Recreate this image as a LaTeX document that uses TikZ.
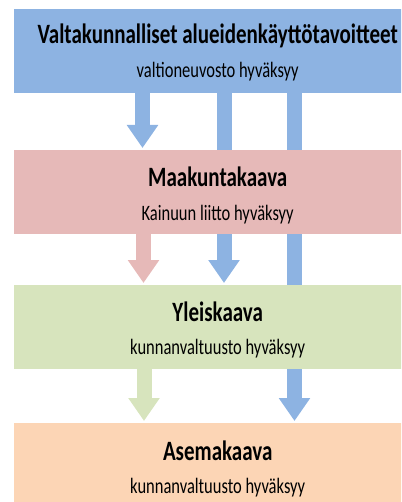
\documentclass[tikz,border=0pt]{standalone}
\usepackage{fontspec}
\newfontfamily\calib[FakeStretch=0.75]{Carlito}
\usetikzlibrary{arrows.meta,backgrounds}
\definecolor{vatblue}{HTML}{8DB3E2}
\definecolor{makupink}{HTML}{E6B9B8}
\definecolor{yleisgreen}{HTML}{D7E4BD}
\definecolor{asemaorange}{HTML}{FCD5B5}

\begin{document}
\begin{tikzpicture}[x=1pt,y=-1pt,
    box/.style={rectangle,anchor=north west,inner sep=0pt,minimum width=408pt,minimum height=83.5pt},
    head/.style={anchor=base,font=\calib\bfseries\fontsize{28}{30}\selectfont},
    sub/.style={anchor=base,font=\calib\fontsize{22}{24}\selectfont},
    blockarrow/.style={line width=15pt,-{Triangle[width=30pt,length=23pt]},shorten >=2pt}]
    \useasboundingbox (0,0) rectangle (401,502);
    \clip (0,0) rectangle (401,502);
    %Levels
    \node[box,fill=vatblue] (vat) at (13.5,9) {};
    \node[box,fill=makupink] (maku) at (13.5,150) {};
    \node[box,fill=yleisgreen] (yleis) at (13.5,285) {};
    \node[box,fill=asemaorange] (asema) at (13.5,423) {};

    %Texts
    \node[head] (vat-h) at ([yshift=-35pt]vat.north) {Valtakunnalliset alueidenkäyttötavoitteet};
    \node[sub] (vat-s) at ([yshift=-69pt]vat.north) {valtioneuvosto hyväksyy};
    \node[head] (maku-h) at ([yshift=-37pt]maku.north) {Maakuntakaava};
    \node[sub] (maku-s) at ([yshift=-71pt]maku.north) {Kainuun liitto hyväksyy};
    \node[head] (yleis-h) at ([yshift=-36pt]yleis.north) {Yleiskaava};
    \node[sub] (yleis-s) at ([yshift=-69pt]yleis.north) {kunnanvaltuusto hyväksyy};
    \node[head] (asema-h) at ([yshift=-37pt]asema.north) {Asemakaava};
    \node[sub] (asema-s) at ([yshift=-70pt]asema.north) {kunnanvaltuusto hyväksyy};

    %Arrows (behind the boxes)
    \begin{scope}[on background layer]
    \draw[blockarrow,vatblue] ([xshift=129pt]vat.south west) -- ([xshift=129pt]maku.north west);
    \draw[blockarrow,vatblue] ([xshift=210.5pt]vat.south west) -- ([xshift=210.5pt]yleis.north west);
    \draw[blockarrow,vatblue] ([xshift=281pt]vat.south west) -- ([xshift=281pt]asema.north west);
    \draw[blockarrow,makupink] ([xshift=130pt]maku.south west) -- ([xshift=130pt]yleis.north west);
    \draw[blockarrow,yleisgreen] ([xshift=130.5pt]yleis.south west) -- ([xshift=130.5pt]asema.north west);
    \end{scope}
\end{tikzpicture}
\end{document}
